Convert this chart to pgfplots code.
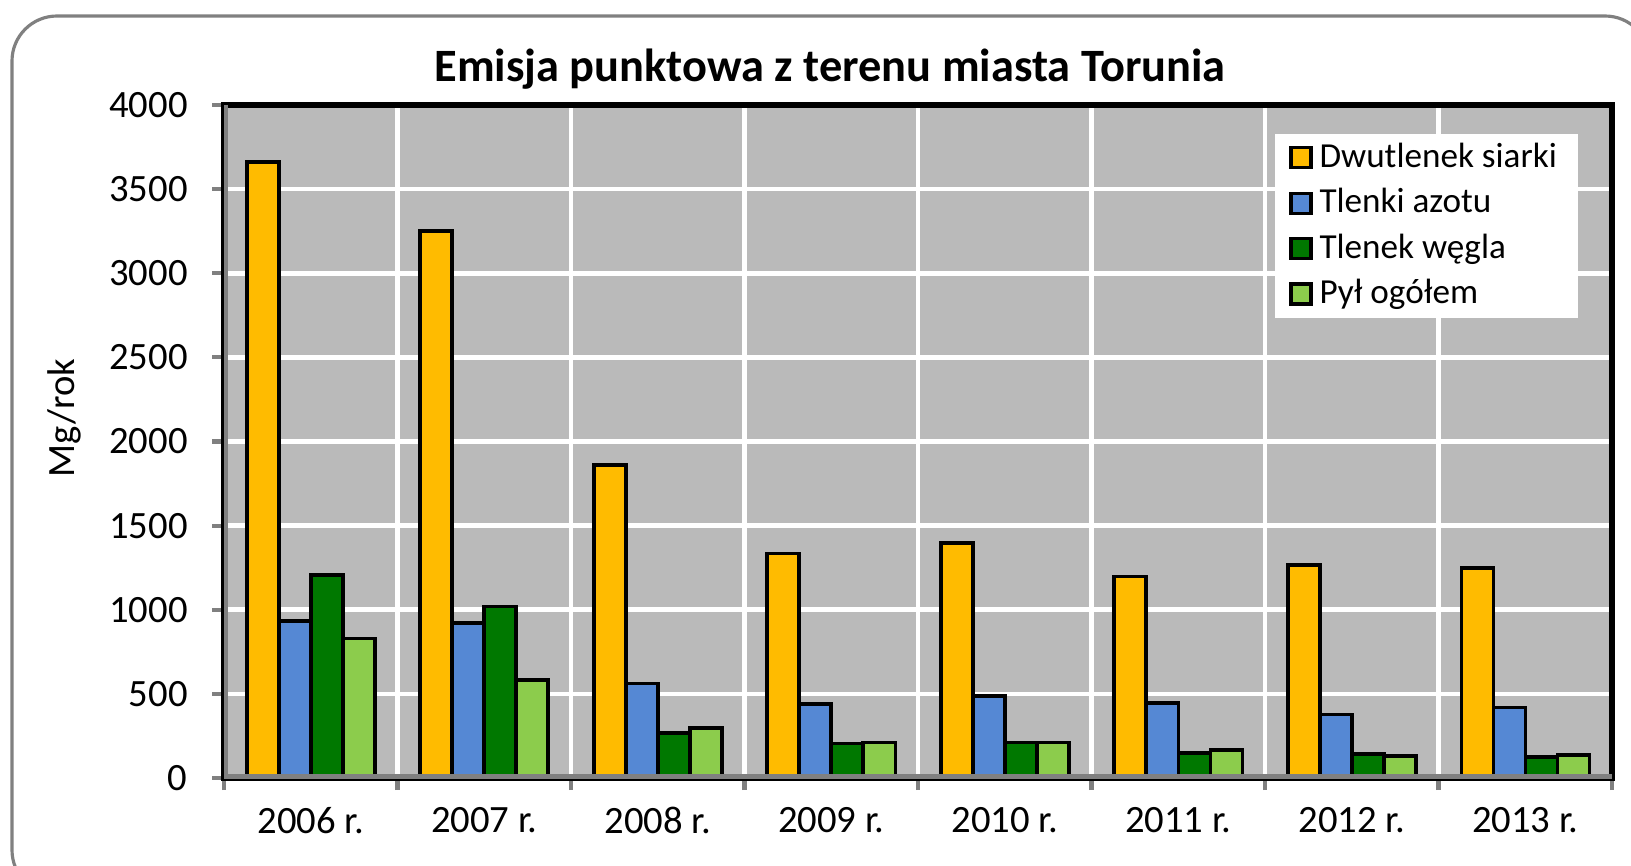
\documentclass[border=0pt]{standalone}
\usepackage{pgfplots}
\pgfplotsset{compat=1.18}
\usepackage{fontspec}
\setmainfont{Carlito}
\definecolor{cyel}{HTML}{FFBB00}
\definecolor{cblu}{HTML}{5588D4}
\definecolor{cdgr}{HTML}{007800}
\definecolor{clgr}{HTML}{8CCC4C}
\definecolor{cbg}{HTML}{BABABA}
\definecolor{cax}{HTML}{808080}
\begin{document}
\begin{tikzpicture}
\useasboundingbox (0,0) rectangle (16.31,8.65);
\begin{scope}
\clip (0,0) rectangle (16.31,8.65);
\draw[cax, line width=0.9pt, rounded corners=0.45cm] (0.12,-0.3) rectangle (16.50,8.49);
\end{scope}
\node[font=\bfseries\fontsize{13.2}{15}\selectfont] at (8.30,7.96) {Emisja punktowa z terenu miasta Torunia};
\begin{axis}[at={(2.24cm,0.87cm)}, anchor=south west, scale only axis,
  width=13.88cm, height=6.73cm,
  ybar=0pt, bar width=0.32cm,
  xmin=-0.5, xmax=7.5, ymin=0, ymax=4000,
  ytick={0,500,...,4000},
  xtick={-0.5,0.5,...,7.5}, xticklabels={},
  xtick pos=bottom, ytick pos=left,
  extra x ticks={0,1,2,3,4,5,6,7},
  extra x tick labels={2006 r.,2007 r.,2008 r.,2009 r.,2010 r.,2011 r.,2012 r.,2013 r.},
  extra x tick style={grid=none, major tick length=0pt, tick label style={yshift=-0.17cm}},
  grid=major,
  major grid style={white, line width=1.3pt},
  axis background/.style={fill=cbg},
  axis line style={black, line width=1.5pt},
  tick align=outside, major tick length=0.12cm,
  tick style={cax, line width=1.2pt},
  yticklabel style={xshift=-0.12cm},
  ticklabel style={font=\fontsize{11}{13}\selectfont},
  /pgf/number format/assume math mode=true,
  /pgf/number format/1000 sep={},
  ylabel={Mg/rok},
  ylabel style={at={(axis description cs:-0.115,0.535)}, anchor=center, font=\fontsize{11}{13}\selectfont},
  legend style={at={(0.976,0.958)}, anchor=north east, fill=white, draw=none,
    font=\fontsize{10}{11}\selectfont, row sep=0.5pt, inner xsep=4pt, inner ysep=0.5pt,
    cells={anchor=west}},
  legend image code/.code={\draw[#1, draw=black, line width=0.9pt] (0cm,-0.1cm) rectangle (0.2cm,0.1cm);},
  every axis plot/.append style={draw=black, line width=1pt},
]
\addplot[fill=cyel] coordinates {(0,3660) (1,3252) (2,1861) (3,1335) (4,1397) (5,1199) (6,1267) (7,1249)};
\addplot[fill=cblu] coordinates {(0,934) (1,921) (2,563) (3,439) (4,488) (5,445) (6,377) (7,420)};
\addplot[fill=cdgr] coordinates {(0,1206) (1,1020) (2,266) (3,204) (4,210) (5,148) (6,142) (7,124)};
\addplot[fill=clgr] coordinates {(0,828) (1,581) (2,297) (3,210) (4,210) (5,167) (6,130) (7,136)};
\legend{Dwutlenek siarki, Tlenki azotu, Tlenek węgla, Pył ogółem}
\draw[cax, line width=2pt] (rel axis cs:0,1) -- (rel axis cs:0,0) -- (rel axis cs:1,0);
\end{axis}
\end{tikzpicture}
\end{document}
